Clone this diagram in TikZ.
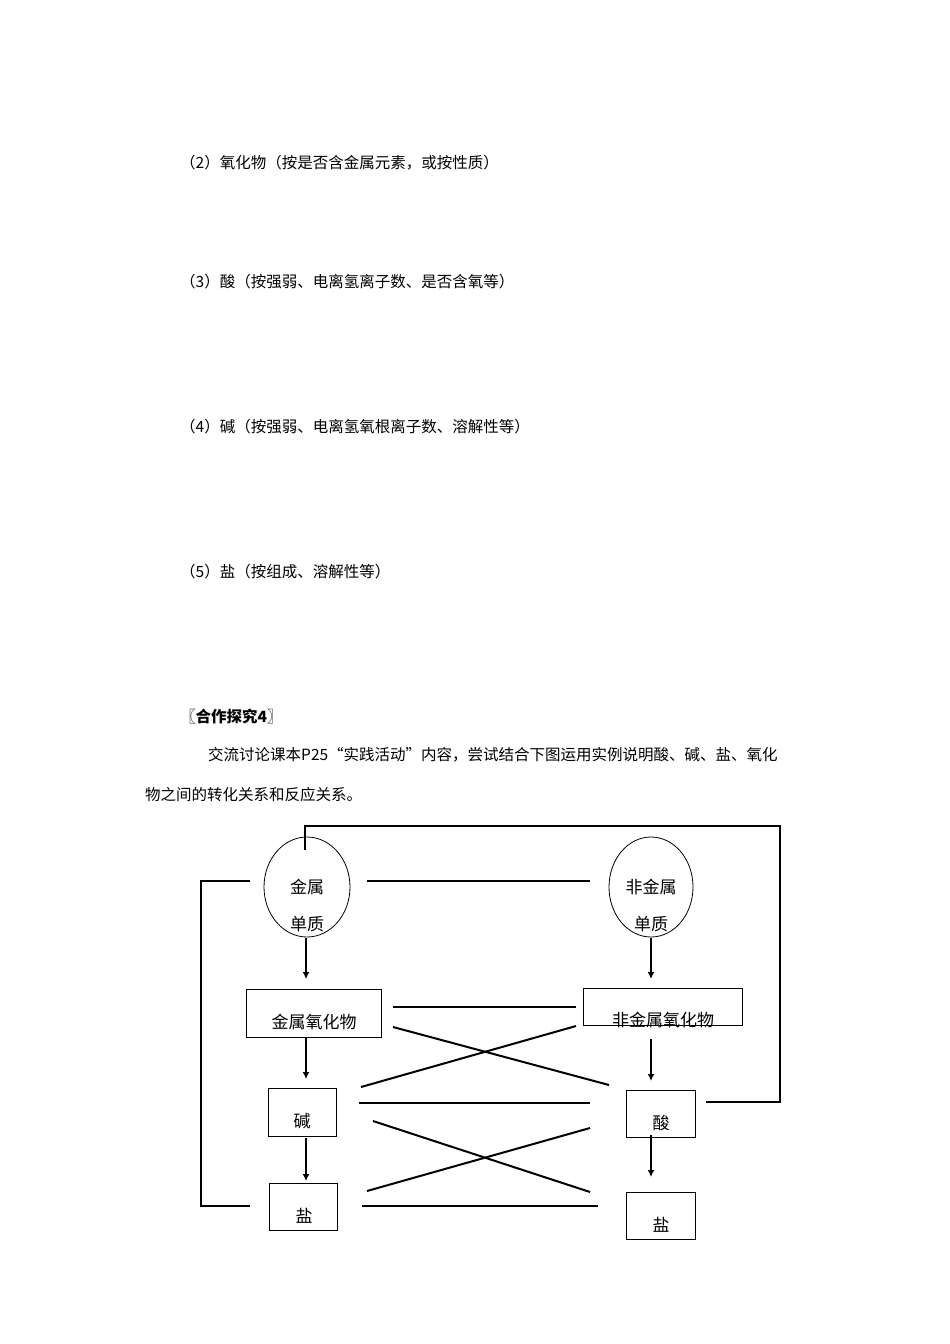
\documentclass[tikz,border=0pt]{standalone}
\usepackage{fontspec}
\usetikzlibrary{arrows.meta}
\newfontfamily\cjk{Noto Sans CJK SC}
\begin{document}
\begin{tikzpicture}[x=1pt,y=-1pt,
  txt/.style={anchor=west,inner sep=0,font=\cjk\fontsize{15.5}{18}\selectfont},
  lab/.style={inner sep=0,font=\cjk\fontsize{17}{19}\selectfont},
  ln/.style={line width=2pt},
  ar/.style={line width=2pt,-{Latex[length=7pt,width=7pt]}},
  bx/.style={draw,line width=0.8pt}]
\useasboundingbox (0,0) rectangle (950,1344);
\node[txt] (t2) at (180,163) {（2）氧化物（按是否含金属元素，或按性质）};
\node[txt] (t3) at (180,282) {（3）酸（按强弱、电离氢离子数、是否含氧等）};
\node[txt] (t4) at (180,427) {（4）碱（按强弱、电离氢氧根离子数、溶解性等）};
\node[txt] (t5) at (180,572) {（5）盐（按组成、溶解性等）};
\node[txt,font=\cjk\bfseries\fontsize{15.5}{18}\selectfont] (h) at (180,717) {〖合作探究4〗};
\node[txt] (p1) at (208,755) {交流讨论课本P25“实践活动”内容，尝试结合下图运用实例说明酸、碱、盐、氧化};
\node[txt] (p2) at (145,795) {物之间的转化关系和反应关系。};
% shapes
\draw[line width=0.8pt] (307,887) ellipse (43 and 50);
\draw[line width=0.8pt] (651,887) ellipse (42 and 50);
\node[lab] (m1) at (307,887) {金属};
\node[lab] (m2) at (307,924) {单质};
\node[lab] (n1) at (651,887) {非金属};
\node[lab] (n2) at (651,924) {单质};
\draw[bx] (246,989) rectangle (381,1037);
\node[lab] (mo) at (314,1022) {金属氧化物};
\draw[bx] (583,988) rectangle (742,1025);
\node[lab] (no) at (663,1020) {非金属氧化物};
\draw[bx] (268,1088) rectangle (336,1136);
\node[lab] (b) at (302,1121) {碱};
\draw[bx] (626,1090) rectangle (695,1137);
\node[lab] (a) at (661,1123) {酸};
\draw[bx] (269,1183) rectangle (337,1230);
\node[lab] (s1) at (304,1216) {盐};
\draw[bx] (626,1192) rectangle (695,1239);
\node[lab] (s2) at (661,1225) {盐};
% connectors
\draw[ln] (305,850) -- (305,826) -- (780,826) -- (780,1102) -- (706,1102);
\draw[ln] (250,881) -- (201,881) -- (201,1206) -- (250,1206);
\draw[ln] (367,881) -- (590,881);
\draw[ar] (306,938) -- (306,979);
\draw[ar] (651,938) -- (651,979);
\draw[ln] (393,1007) -- (576,1007);
\draw[ln] (393,1027) -- (609,1085);
\draw[ln] (361,1087) -- (576,1026);
\draw[ar] (306,1038) -- (306,1079);
\draw[ar] (651,1039) -- (651,1081);
\draw[ln] (359,1103) -- (590,1103);
\draw[ln] (373,1121) -- (590,1192);
\draw[ln] (367,1191) -- (590,1128);
\draw[ar] (306,1138) -- (306,1181);
\draw[ar] (651,1135) -- (651,1177);
\draw[ln] (362,1206) -- (598,1206);
\end{tikzpicture}
\end{document}
